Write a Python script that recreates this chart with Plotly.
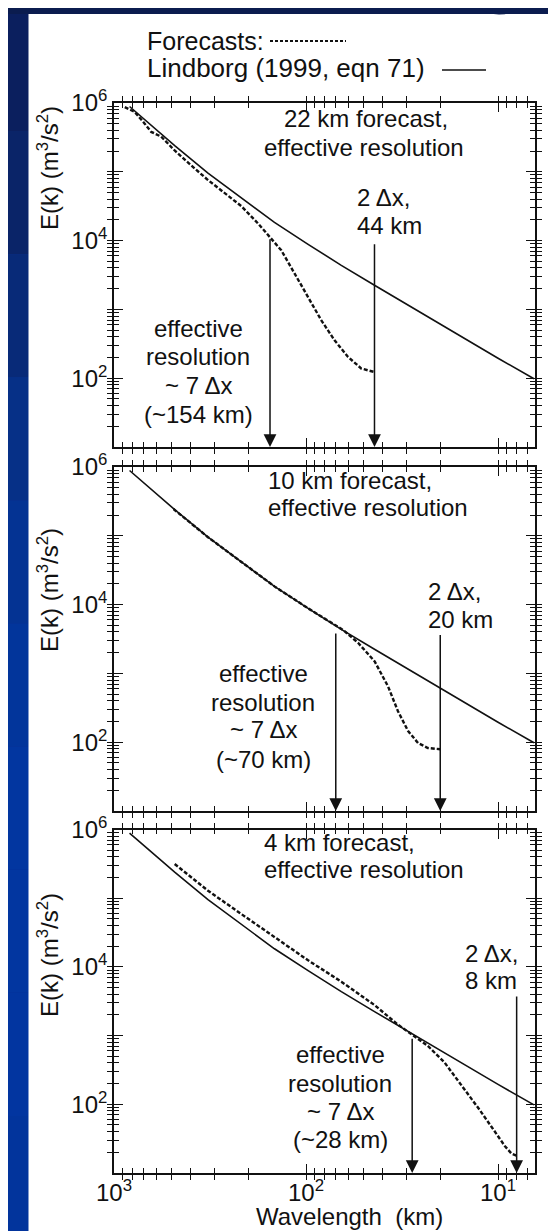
import numpy as np
import plotly.graph_objects as go

# ---------------- data ----------------
lindborg_wavelength_km = [830, 630, 483, 324, 217, 146, 98, 65.5, 44, 29.4, 20, 10, 6.5]
lindborg_energy = [8.9e5, 4.57e5, 2.4e5, 9.55e4, 4.17e4, 1.84e4, 8.9e3, 4.37e3, 2.24e3, 1.15e3, 603, 195, 98]

fc22_wavelength_km = [879, 780, 692, 640, 568, 483, 395, 324, 265, 217, 178, 154.5, 134.6,
                      114.6, 97.7, 83.2, 71, 60.4, 51.5, 44]
fc22_energy = [8.71e5, 7.41e5, 5.01e5, 3.80e5, 3.25e5, 2.04e5, 1.23e5, 7.59e4, 4.90e4, 3.16e4,
               1.78e4, 1.15e4, 7240, 3310, 1510, 692, 355, 204, 138, 123]

fc10_wavelength_km = [490, 324, 217, 146, 98, 71, 64, 53.6, 43.9, 37.4, 33.2, 29.4, 26.1, 23.2, 20]
fc10_energy = [2.45e5, 9.55e4, 4.17e4, 1.84e4, 8.9e3, 5.01e3, 4.26e3, 2.79e3, 1.49e3, 647,
               282, 145, 97.5, 82.4, 79]

fc4_wavelength_km = [483, 324, 217, 146, 98, 65.5, 44, 33.2, 27.2, 23.2, 19, 15.5, 12.7,
                     10.8, 9.2, 8.5, 8.0]
fc4_energy = [3.16e5, 1.29e5, 5.89e4, 2.72e4, 1.26e4, 6100, 2790, 1445, 977, 708, 407, 191,
              89, 46.8, 24.5, 19.1, 17.8]

grid_km = [22, 10, 4]
effective_res_km = [154, 70, 28]
two_dx_km = [44, 20, 8]
eff_arrow_top = [1.1e4, 4.0e3, 950]
two_dx_arrow_top = [9.3e3, 3.8e3, 3.9e3]

x_decades = [1000, 100, 10]
x_decade_labels = {1000: "10<sup>3</sup>", 100: "10<sup>2</sup>", 10: "10<sup>1</sup>"}
y_decades = [10, 100, 1e3, 1e4, 1e5, 1e6]
y_decade_labels = {100: "10<sup>2</sup>", 1e4: "10<sup>4</sup>", 1e6: "10<sup>6</sup>"}

forecasts = [(fc22_wavelength_km, fc22_energy), (fc10_wavelength_km, fc10_energy),
             (fc4_wavelength_km, fc4_energy)]

# ---------------- layout geometry ----------------
W, H = 556, 1231
L, R, T, B = 106, 29, 95, 66
PW, PH = W - L - R, H - T - B


def px(x):
    return (x - L) / PW


def py(y):
    return (H - B - y) / PH


FONT = "Liberation Sans, Arial, Helvetica, sans-serif"
FS = 24
INK = "#111111"

domains = [[py(439), 1.0], [py(803), py(459)], [0.0, py(821.6)]]

x_minor = [m * 10 ** e for e in (0, 1, 2) for m in range(2, 10) if m * 10 ** e > 6.4]
y_minor = [m * 10 ** e for e in (1, 2, 3, 4, 5) for m in range(2, 10)]
x_all = sorted(x_minor + x_decades)
y_all = sorted(y_minor + y_decades)
x_all_text = [x_decade_labels.get(v, "") for v in x_all]
y_all_text = [y_decade_labels.get(v, "") for v in y_all]

XR = [3, np.log10(6.42)]
YR = [1, 6]

fig = go.Figure()

for i in range(3):
    xa = "x" if i == 0 else f"x{i + 1}"
    ya = "y" if i == 0 else f"y{i + 1}"
    fig.add_trace(go.Scatter(x=lindborg_wavelength_km, y=lindborg_energy, mode="lines",
                             line=dict(color=INK, width=1.6), xaxis=xa, yaxis=ya,
                             showlegend=False, hoverinfo="skip"))
    wl, en = forecasts[i]
    fig.add_trace(go.Scatter(x=wl, y=en, mode="lines",
                             line=dict(color=INK, width=2.4, dash="4px,2px"),
                             xaxis=xa, yaxis=ya, showlegend=False, hoverinfo="skip"))

axis_common = dict(showline=True, linecolor=INK, linewidth=1.6,
                   ticks="inside", tickwidth=1.1, tickcolor=INK,
                   showgrid=False, zeroline=False, type="log", tickmode="array",
                   tickfont=dict(family=FONT, size=FS, color=INK))

layout = dict(width=W, height=H, margin=dict(l=L, r=R, t=T, b=B),
              paper_bgcolor="#0a2f8f", plot_bgcolor="white", showlegend=False)

next_id = 4
for i in range(3):
    n = i + 1
    xk = "xaxis" if i == 0 else f"xaxis{n}"
    yk = "yaxis" if i == 0 else f"yaxis{n}"
    ya = "y" if i == 0 else f"y{n}"
    xa = "x" if i == 0 else f"x{n}"
    # main axes: every tick short, labels at the labelled decades
    layout[xk] = dict(axis_common, domain=[0, 1], anchor=ya, range=XR, ticklen=5,
                      mirror="allticks", tickvals=x_all, ticktext=x_all_text,
                      showticklabels=(i == 2))
    layout[yk] = dict(axis_common, domain=domains[i], anchor=xa, range=YR, ticklen=5,
                      mirror="allticks", tickvals=y_all, ticktext=y_all_text)
    # overlay axes carrying the longer decade ticks on every side
    for side in ("bottom", "top"):
        k = next_id
        next_id += 1
        layout[f"xaxis{k}"] = dict(axis_common, overlaying=xa, anchor=ya, range=XR, ticklen=9,
                                   tickwidth=1.4, tickvals=x_decades, showticklabels=False,
                                   side=side, showline=False)
        fig.add_trace(go.Scatter(x=[], y=[], xaxis=f"x{k}", yaxis=ya, mode="lines",
                                 showlegend=False, hoverinfo="skip"))
    for side in ("left", "right"):
        k = next_id
        next_id += 1
        layout[f"yaxis{k}"] = dict(axis_common, overlaying=ya, anchor=xa, range=YR, ticklen=9,
                                   tickwidth=1.4, tickvals=y_decades, showticklabels=False,
                                   side=side, showline=False)
        fig.add_trace(go.Scatter(x=[], y=[], xaxis=xa, yaxis=f"y{k}", mode="lines",
                                 showlegend=False, hoverinfo="skip"))

fig.update_layout(**layout)
try:
    fig.update_layout(xaxis3=dict(ticklabelstandoff=-3))
except Exception:
    pass

# ---------------- background slide ----------------
shapes = []
strip_cols = ["#0b1f5e", "#0a2468", "#082a78", "#063087", "#043393", "#02359b",
              "#0236a0", "#0236a0", "#0235a0", "#02349c"]
nb = len(strip_cols)
for k, c in enumerate(strip_cols):
    y0 = k * H / nb
    y1 = (k + 1) * H / nb
    shapes.append(dict(type="rect", xref="paper", yref="paper", x0=px(0), x1=px(21),
                       y0=py(y1), y1=py(y0), fillcolor=c, line=dict(width=0), layer="below"))
shapes.append(dict(type="rect", xref="paper", yref="paper", x0=px(0), x1=px(W),
                   y0=py(6), y1=py(0), fillcolor="#0b1c4f", line=dict(width=0), layer="below"))
shapes.append(dict(type="rect", xref="paper", yref="paper", x0=px(20.5), x1=px(W),
                   y0=py(H), y1=py(6), fillcolor="white", line=dict(width=0), layer="below"))
shapes.append(dict(type="circle", xref="paper", yref="paper", x0=px(462), x1=px(520),
                   y0=py(5), y1=py(-50), line=dict(color="#0b1c4f", width=3)))
# legend samples
shapes.append(dict(type="line", xref="paper", yref="paper", x0=px(262), x1=px(338),
                   y0=py(33), y1=py(33), line=dict(color=INK, width=2, dash="3px,2px")))
shapes.append(dict(type="line", xref="paper", yref="paper", x0=px(434), x1=px(478),
                   y0=py(62), y1=py(62), line=dict(color=INK, width=1.6)))
fig.update_layout(shapes=shapes)

# ---------------- annotations ----------------
ann = []


def text(s, x, y, xanchor="center", size=FS, angle=0):
    ann.append(dict(text=s, x=px(x), y=py(y), xref="paper", yref="paper",
                    xanchor=xanchor, yanchor="middle", showarrow=False, textangle=angle,
                    font=dict(family=FONT, size=size, color=INK)))


text("Forecasts:", 137, 33, "left", size=25)
text("Lindborg (1999, eqn 71)", 137, 60, "left", size=26)

# panel 1
text(f"{grid_km[0]} km forecast,", 358, 111)
text("effective resolution", 356, 139)
text("2 \u0394x,", 347, 190, "left")
text(f"{two_dx_km[0]} km", 347, 217, "left")
for s, yy in zip(["effective", "resolution", "~ 7 \u0394x", f"(~{effective_res_km[0]} km)"],
                 [320, 349, 378, 406]):
    text(s, 190, yy)

# panel 2
text(f"{grid_km[1]} km forecast,", 342, 472)
text("effective resolution", 360, 499)
text("2 \u0394x,", 418, 583, "left")
text(f"{two_dx_km[1]} km", 418, 611, "left")
for s, yy in zip(["effective", "resolution", "~ 7 \u0394x", f"(~{effective_res_km[1]} km)"],
                 [665, 694, 722, 751]):
    text(s, 255, yy)

# panel 3
text(f"{grid_km[2]} km forecast,", 331, 834)
text("effective resolution", 356, 862)
text("2 \u0394x,", 455, 945, "left")
text(f"{two_dx_km[2]} km", 455, 972, "left")
for s, yy in zip(["effective", "resolution", "~ 7 \u0394x", f"(~{effective_res_km[2]} km)"],
                 [1046, 1075, 1103, 1131]):
    text(s, 332, yy)

# axis titles
for yy in (160, 582, 947):
    text("E(k) (m<sup>3</sup>/s<sup>2</sup>)", 40, yy, angle=-90)
text("Wavelength\u00a0 (km)", 341, 1208)

# arrows
for i in range(3):
    xa = "x" if i == 0 else f"x{i + 1}"
    ya = "y" if i == 0 else f"y{i + 1}"
    for lam, top in ((effective_res_km[i], eff_arrow_top[i]), (two_dx_km[i], two_dx_arrow_top[i])):
        ann.append(dict(x=np.log10(lam), y=1.0, ax=np.log10(lam), ay=np.log10(top),
                        xref=xa, yref=ya, axref=xa, ayref=ya, text="", showarrow=True,
                        arrowhead=2, arrowsize=1.7, arrowwidth=1.5, arrowcolor=INK,
                        standoff=0))

fig.update_layout(annotations=ann)

fig.write_html("out.html")
